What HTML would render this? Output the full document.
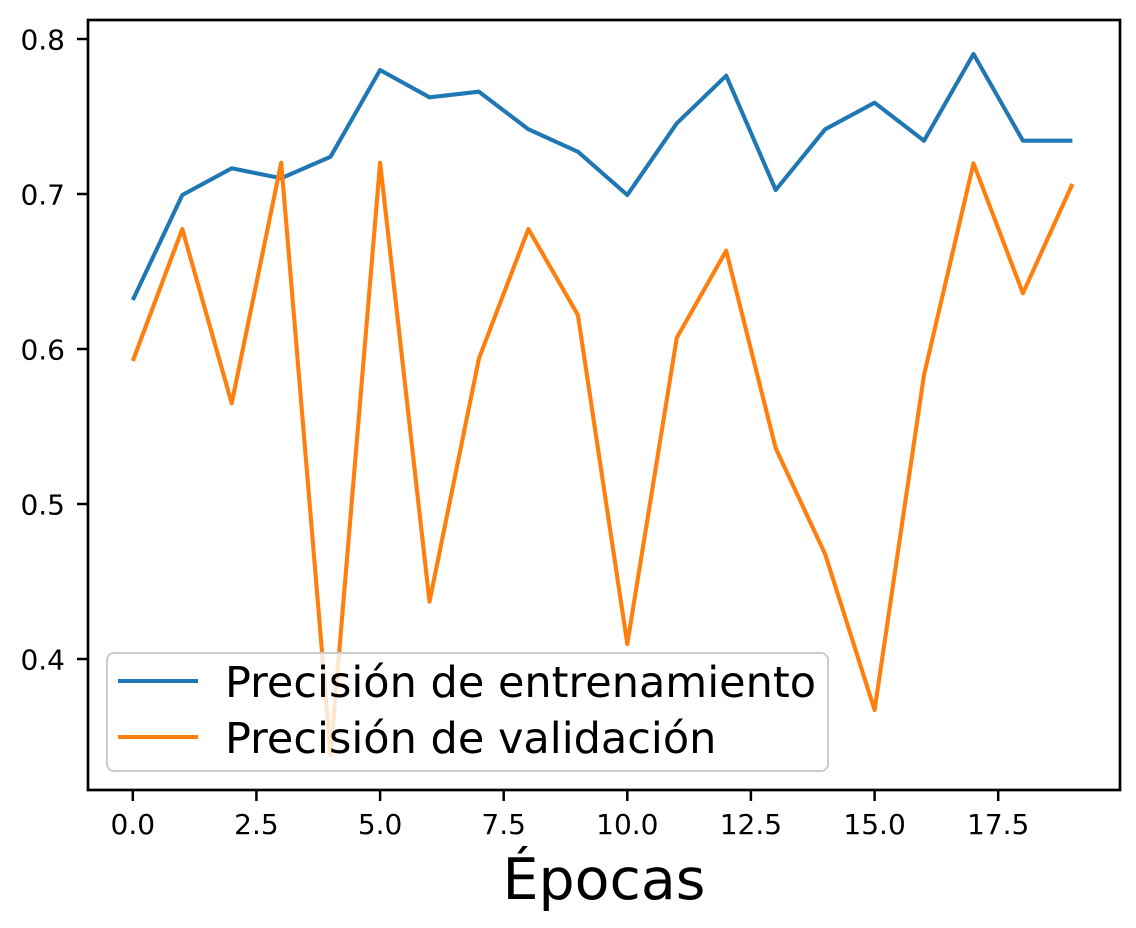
<!DOCTYPE html>
<html>
<head>
<meta charset="utf-8">
<style>
  html, body { margin: 0; padding: 0; background: #ffffff; }
  svg { display: block; }
  text { font-family: "DejaVu Sans", "Liberation Sans", sans-serif; fill: #000; }
</style>
</head>
<body>
<svg width="1136" height="928" viewBox="0 0 1136 928" xmlns="http://www.w3.org/2000/svg">
  <rect x="0" y="0" width="1136" height="928" fill="#ffffff"/>

  <!-- series -->
  <polyline fill="none" stroke="#1f77b4" stroke-width="4.1" stroke-linejoin="round" stroke-linecap="butt"
    points="132.8,300 182.3,195 231.7,168.3 281.2,178.3 330.6,156.7 380.1,70 429.5,97.3 479,91.7 528.4,129.3 577.9,151.7 627.3,195 676.8,123.3 726.2,75.7 775.7,190 825.1,129.3 874.6,102.7 924,140.7 973.5,54 1022.9,140.7 1072.4,140.7"/>
  <polyline fill="none" stroke="#ff7f0e" stroke-width="4.1" stroke-linejoin="round" stroke-linecap="butt"
    points="132.8,361 182.3,229 231.7,403.3 281.2,162.7 330.6,755 380.1,162.7 429.5,601.7 479,358.3 528.4,229 577.9,315 627.3,644 676.8,337.7 726.2,250.7 775.7,448.3 825.1,554 874.6,710 924,375 973.5,163.3 1022.9,293.3 1072.4,184"/>

  <!-- axes frame -->
  <rect x="88" y="20" width="1032" height="770" fill="none" stroke="#000" stroke-width="2.7"/>

  <!-- y ticks -->
  <g stroke="#000" stroke-width="2.5">
    <line x1="77" y1="39" x2="88" y2="39"/>
    <line x1="77" y1="194" x2="88" y2="194"/>
    <line x1="77" y1="349" x2="88" y2="349"/>
    <line x1="77" y1="504" x2="88" y2="504"/>
    <line x1="77" y1="659" x2="88" y2="659"/>
  </g>
  <g font-size="28" text-anchor="end" dominant-baseline="central">
    <text x="65" y="40">0.8</text>
    <text x="65" y="195">0.7</text>
    <text x="65" y="350">0.6</text>
    <text x="65" y="505">0.5</text>
    <text x="65" y="660">0.4</text>
  </g>

  <!-- x ticks -->
  <g stroke="#000" stroke-width="2.5">
    <line x1="132.8" y1="790" x2="132.8" y2="801"/>
    <line x1="256.4" y1="790" x2="256.4" y2="801"/>
    <line x1="380.1" y1="790" x2="380.1" y2="801"/>
    <line x1="503.7" y1="790" x2="503.7" y2="801"/>
    <line x1="627.3" y1="790" x2="627.3" y2="801"/>
    <line x1="750.9" y1="790" x2="750.9" y2="801"/>
    <line x1="874.6" y1="790" x2="874.6" y2="801"/>
    <line x1="998.2" y1="790" x2="998.2" y2="801"/>
  </g>
  <g font-size="28" text-anchor="middle">
    <text x="132.8" y="834">0.0</text>
    <text x="256.4" y="834">2.5</text>
    <text x="380.1" y="834">5.0</text>
    <text x="503.7" y="834">7.5</text>
    <text x="627.3" y="834">10.0</text>
    <text x="750.9" y="834">12.5</text>
    <text x="874.6" y="834">15.0</text>
    <text x="998.2" y="834">17.5</text>
  </g>

  <!-- x label -->
  <text x="604" y="899" font-size="57" text-anchor="middle">Épocas</text>

  <!-- legend -->
  <rect x="107" y="653" width="721" height="118" rx="7" ry="7" fill="rgba(255,255,255,0.8)" stroke="#cccccc" stroke-width="2"/>
  <line x1="118" y1="681" x2="198" y2="681" stroke="#1f77b4" stroke-width="4.1"/>
  <line x1="118" y1="737" x2="198" y2="737" stroke="#ff7f0e" stroke-width="4.1"/>
  <text x="225" y="697" font-size="43">Precisión de entrenamiento</text>
  <text x="225" y="753" font-size="43">Precisión de validación</text>
</svg>
</body>
</html>
